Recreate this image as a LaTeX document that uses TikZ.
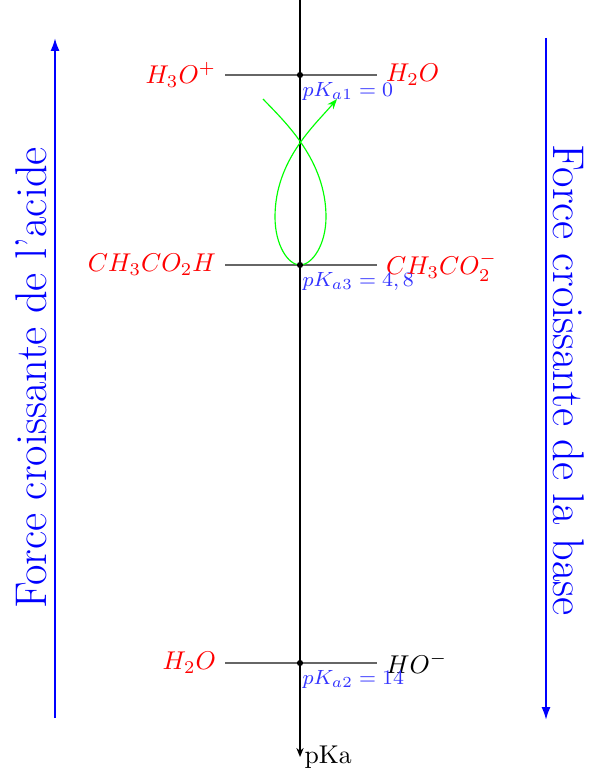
\documentclass[tikz,border=0pt]{standalone}
\usetikzlibrary{arrows.meta}
\begin{document}
\begin{tikzpicture}[x=0.389pt,y=-0.389pt,
  tick/.style={gray!80!black,line width=0.4pt},
  spec/.style={red,font=\normalsize},
  pk/.style={blue!80,font=\footnotesize,inner sep=0pt,anchor=north west},
  force/.style={blue,line width=0.8pt,-{Latex[length=5pt,width=3.5pt]}},
  dot/.style={circle,fill=black,inner sep=0pt,minimum size=2.4pt}]
\useasboundingbox (0,0) rectangle (601,780);
% axis
\coordinate (top) at (300,0);
\coordinate (bot) at (300,757);
\draw[line width=0.6pt,-{Stealth[length=3.5pt,width=2.8pt]}] (top) -- (bot) node[right,inner sep=1.5pt,font=\normalsize] (pka) {pKa};
% levels
\foreach \n/\y in {a/75,b/265,c/663}{
  \coordinate (l\n) at (225,\y);
  \coordinate (r\n) at (377,\y);
  \draw[tick] (l\n) -- (r\n);
  \coordinate (d\n) at (300,\y);
}
% green loop
\draw[green,line width=0.45pt,-{Stealth[length=4pt,width=3pt]}]
  (263,99) .. controls (285,122) and (326,160) .. (326,217)
  .. controls (326,245) and (312,265) .. (db)
  .. controls (288,265) and (275,245) .. (275,217)
  .. controls (275,160) and (315,125) .. (337,99);
\foreach \n in {a,b,c}{\node[dot] (dot\n) at (d\n) {};}
\node[spec,anchor=east] (hthree) at (225,75) {$H_3O^+$};
\node[spec,anchor=west] (hwatera) at (377,75) {$H_2O$};
\node[spec,anchor=east] (acid) at (225,265) {$CH_3CO_2H$};
\node[spec,anchor=west] (acet) at (377,267) {$CH_3CO_2^-$};
\node[spec,anchor=east] (hwaterb) at (225,663) {$H_2O$};
\node[anchor=west,font=\normalsize] (ho) at (377,663) {$HO^-$};
\node[pk] (pka1) at (302,82) {$pK_{a1}=0$};
\node[pk] (pka3) at (302,272) {$pK_{a3}=4,8$};
\node[pk] (pka2) at (302,670) {$pK_{a2}=14$};
% force arrows
\coordinate (la0) at (55,718);
\coordinate (la1) at (55,38);
\coordinate (ra0) at (546,38);
\coordinate (ra1) at (546,720);
\draw[force] (la0) -- (la1);
\draw[force] (ra0) -- (ra1);
\node[blue,rotate=90,font=\LARGE] (facid) at (31,378) {Force croissante de l'acide};
\node[blue,rotate=-90,font=\LARGE] (fbase) at (569,380) {Force croissante de la base};
\end{tikzpicture}
\end{document}
